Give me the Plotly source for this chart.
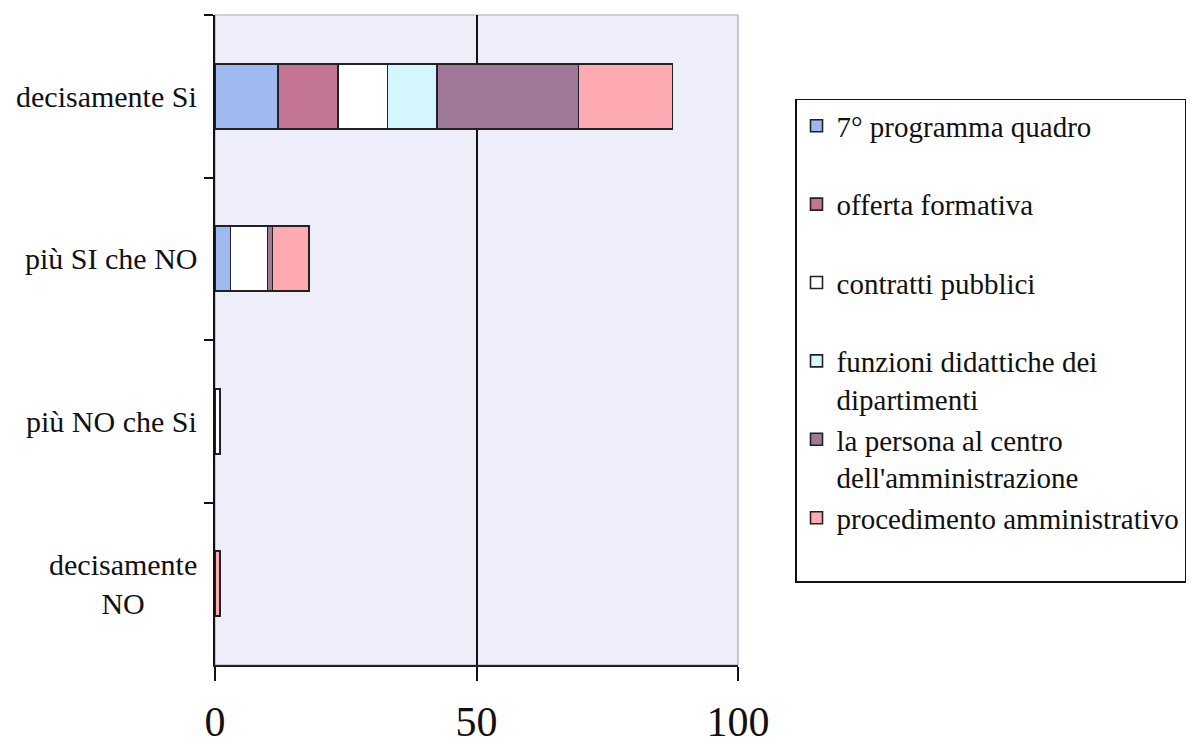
import plotly.graph_objects as go

# Response categories (top to bottom)
categories = ["decisamente Si", "più SI che NO", "più NO che Si", "decisamente NO"]
category_labels = ["decisamente Si", "più SI che NO", "più NO che Si", "decisamente<br>NO"]

# Course names shown in the legend
series_names = [
    "7° programma quadro",
    "offerta formativa",
    "contratti pubblici",
    "funzioni didattiche dei<br>dipartimenti",
    "la persona al centro<br>dell'amministrazione",
    "procedimento amministrativo",
]

# Values per course, one per category
programma_quadro = [12, 3, 0, 0]
offerta_formativa = [11.5, 0, 0, 0]
contratti_pubblici = [9.5, 7, 1, 0]
funzioni_didattiche = [9.5, 0, 0, 0]
persona_centro = [27, 1, 0, 0]
procedimento_amm = [18, 7, 0, 1]

series_values = [
    programma_quadro,
    offerta_formativa,
    contratti_pubblici,
    funzioni_didattiche,
    persona_centro,
    procedimento_amm,
]

colors = ["#9DB9F0", "#C47596", "#FFFFFF", "#D6F6FF", "#9F7797", "#FFAAB2"]

x_ticks = [0, 50, 100]

FONT = "Times New Roman, Liberation Serif, serif"

fig = go.Figure()
for name, vals, col in zip(series_names, series_values, colors):
    legend_text = name if "<br>" in name else name + "<br>\u00a0"
    fig.add_trace(
        go.Bar(
            y=categories,
            x=vals,
            name=legend_text,
            orientation="h",
            marker=dict(color=col, line=dict(color="#222222", width=1.6)),
            width=0.4,
        )
    )

# Category labels, centred line by line
for cat, lab in zip(categories, category_labels):
    fig.add_annotation(
        x=0, xref="paper", y=cat, yref="y",
        text=lab, showarrow=False,
        xanchor="right", yanchor="middle", align="center",
        xshift=-16,
        font=dict(family=FONT, size=30, color="#111111"),
    )

# Thin grey frame on top and right of the plotting area
fig.add_shape(
    type="rect", xref="paper", yref="paper", x0=0, x1=1, y0=0, y1=1,
    line=dict(color="#A8A8B8", width=1.2), layer="below",
)

fig.update_layout(
    barmode="stack",
    width=1200,
    height=745,
    margin=dict(l=215, r=462, t=15, b=80, autoexpand=False),
    paper_bgcolor="white",
    plot_bgcolor="#EEEEFB",
    font=dict(family=FONT, color="#111111"),
    showlegend=True,
    legend=dict(
        x=1.109, y=0.871, xanchor="left", yanchor="top",
        bgcolor="white",
        bordercolor="#111111", borderwidth=1.5,
        font=dict(family=FONT, size=29, color="#111111"),
        valign="top",
        traceorder="normal",
    ),
)

fig.update_xaxes(
    range=[0, 100],
    tickvals=x_ticks,
    ticktext=[str(v) for v in x_ticks],
    ticks="outside", ticklen=14, tickwidth=1.6, tickcolor="#111111",
    showline=True, linecolor="#222222", linewidth=1.6,
    showgrid=True, gridcolor="#111111", gridwidth=1.6,
    zeroline=False,
    tickfont=dict(family=FONT, size=42, color="#111111"),
    ticklabelstandoff=5,
)

fig.update_yaxes(
    type="category",
    categoryorder="array",
    categoryarray=categories,
    autorange="reversed",
    showticklabels=False,
    ticks="outside", ticklen=9, tickwidth=1.6, tickcolor="#111111",
    tickson="boundaries",
    showline=True, linecolor="#111111", linewidth=1.8,
    showgrid=False, zeroline=False,
)

fig.write_html("out.html")
